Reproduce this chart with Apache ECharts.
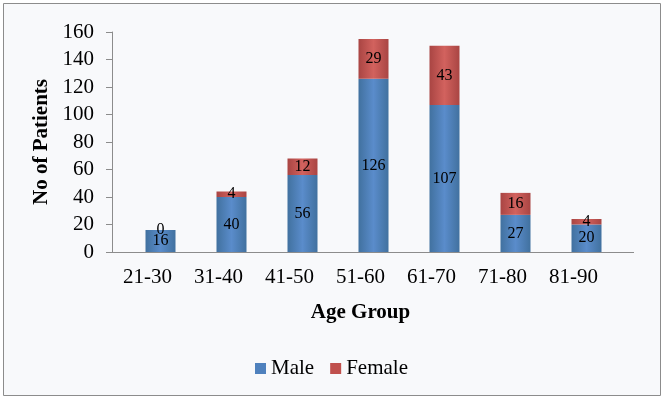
<!DOCTYPE html>
<html>
<head>
<meta charset="utf-8">
<script src="https://cdn.jsdelivr.net/npm/echarts@6/dist/echarts.min.js"></script>
<style>
  html, body { margin: 0; padding: 0; background: #fff; }
  #chart { width: 663px; height: 399px; }
</style>
</head>
<body>
<div id="chart"></div>
<script>
  // age groups and patient counts
  var ageGroups = ['21-30', '31-40', '41-50', '51-60', '61-70', '71-80', '81-90']
  var male = [16, 40, 56, 126, 107, 27, 20]
  var female = [0, 4, 12, 29, 43, 16, 4]
  var yTicks = [0, 20, 40, 60, 80, 100, 120, 140, 160]

  var font = '"Liberation Serif", "Times New Roman", serif'
  var axisGray = '#8c8c8c'
  var yMin = yTicks[0]
  var yMax = yTicks[yTicks.length - 1]
  var yStep = yTicks[1] - yTicks[0]

  function barFill (dark, mid) {
    return new echarts.graphic.LinearGradient(0, 0, 1, 0, [
      { offset: 0, color: dark },
      { offset: 0.5, color: mid },
      { offset: 1, color: dark }
    ])
  }

  var myChart = echarts.init(document.getElementById('chart'))
  myChart.setOption({
    backgroundColor: '#fff',
    animation: false,
    graphic: [
      {
        type: 'rect',
        shape: { x: 3.5, y: 3.5, width: 657, height: 392 },
        style: { fill: '#f8f9fb', stroke: axisGray, lineWidth: 1 },
        z: -1
      },
      {
        // excel draws the category axis line a little past the last tick
        type: 'line',
        shape: { x1: 609, y1: 252.5, x2: 634, y2: 252.5 },
        style: { stroke: axisGray, lineWidth: 1 }
      }
    ],
    legend: {
      data: [
        { name: 'Male', itemStyle: { color: '#4f81bd' } },
        { name: 'Female', itemStyle: { color: '#c0504d' } }
      ],
      bottom: 15,
      left: 'center',
      itemWidth: 11,
      itemHeight: 11,
      itemGap: 16,
      icon: 'rect',
      textStyle: { fontFamily: font, fontSize: 21, color: '#000' }
    },
    grid: [
      { left: 112, right: 54, top: 32, bottom: 147 },
      // bars sit a bit right of the label centres, like the original
      { left: 125, right: 41, top: 32, bottom: 147 }
    ],
    xAxis: [
      {
        type: 'category',
        gridIndex: 0,
        data: ageGroups,
        name: 'Age Group',
        nameLocation: 'middle',
        nameGap: 50,
        nameTextStyle: { fontFamily: font, fontSize: 21, fontWeight: 'bold', color: '#000' },
        axisLine: { lineStyle: { color: axisGray } },
        axisTick: { length: 6, lineStyle: { color: axisGray } },
        axisLabel: { fontFamily: font, fontSize: 21, color: '#000', margin: 15 }
      },
      {
        type: 'category',
        gridIndex: 1,
        data: ageGroups,
        show: false
      }
    ],
    yAxis: [
      {
        type: 'value',
        gridIndex: 0,
        min: yMin,
        max: yMax,
        interval: yStep,
        name: 'No of Patients',
        nameLocation: 'middle',
        nameGap: 58,
        nameTextStyle: { fontFamily: font, fontSize: 21, fontWeight: 'bold', color: '#000' },
        axisLine: { show: true, lineStyle: { color: axisGray } },
        axisTick: { show: true, length: 6, lineStyle: { color: axisGray } },
        splitLine: { show: false },
        axisLabel: { fontFamily: font, fontSize: 21, color: '#000', margin: 18 }
      },
      {
        type: 'value',
        gridIndex: 1,
        min: yMin,
        max: yMax,
        interval: yStep,
        show: false,
        splitLine: { show: false }
      }
    ],
    series: [
      {
        name: 'Male',
        type: 'bar',
        xAxisIndex: 1,
        yAxisIndex: 1,
        stack: 'total',
        barWidth: 30,
        data: male,
        itemStyle: { color: barFill('#41719f', '#5a8ccb') },
        label: { show: true, position: 'inside', fontFamily: font, fontSize: 16, color: '#000' }
      },
      {
        name: 'Female',
        type: 'bar',
        xAxisIndex: 1,
        yAxisIndex: 1,
        stack: 'total',
        barWidth: 30,
        data: female,
        itemStyle: { color: barFill('#a94543', '#d2625e') },
        label: { show: true, position: 'inside', fontFamily: font, fontSize: 16, color: '#000' }
      }
    ]
  })
</script>
</body>
</html>
